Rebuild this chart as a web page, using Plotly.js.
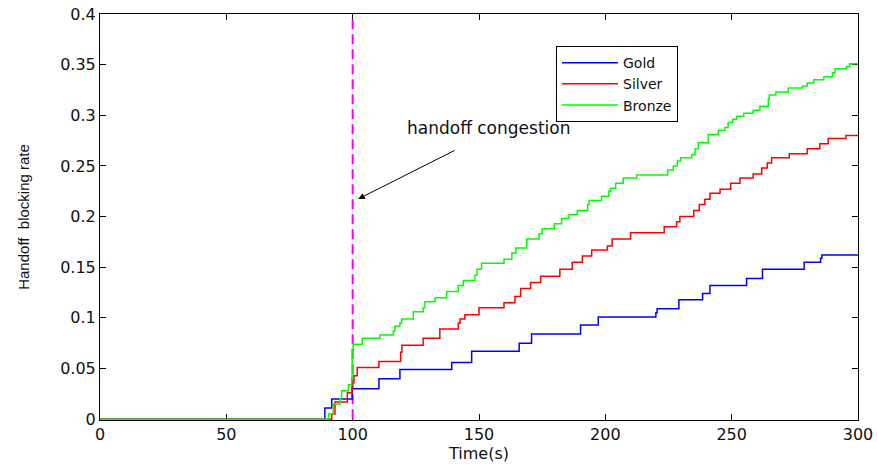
<!DOCTYPE html>
<html>
<head>
<meta charset="utf-8">
<script src="https://cdn.plot.ly/plotly-3.0.1.min.js"></script>
<style>
  html, body { margin: 0; padding: 0; background: #fff; }
  #chart { width: 877px; height: 466px; }
</style>
</head>
<body>
<div id="chart"></div>
<script>
// ---- Data ----
const seriesNames = ["Gold", "Silver", "Bronze"];
const seriesColors = ["#0000ff", "#ff0000", "#00ff00"];

const goldTime = [0, 89.0, 91.7, 99.8, 110.4, 118.7, 139.2, 147.1, 165.9, 170.8, 190.2, 197.2, 220.0, 220.5, 229.1, 238.5, 241.4, 255.9, 262.2, 278.7, 285.2, 285.7, 300];
const goldRate = [0, 0.011, 0.020, 0.030, 0.040, 0.049, 0.056, 0.067, 0.075, 0.084, 0.093, 0.101, 0.105, 0.109, 0.118, 0.124, 0.132, 0.139, 0.148, 0.155, 0.159, 0.162, 0.162];

const silverTime = [0, 91.7, 93.0, 97.9, 99.8, 100.5, 101.8, 110.4, 119.0, 119.5, 127.9, 134.5, 141.8, 142.5, 144.4, 150.0, 159.9, 164.2, 166.5, 170.4, 174.4, 182.0, 186.9, 190.9, 194.6, 200.8, 202.7, 210.0, 223.3, 228.2, 229.5, 235.0, 237.2, 239.4, 241.4, 245.4, 249.6, 253.3, 258.5, 261.9, 264.1, 265.8, 272.8, 279.9, 284.9, 288.2, 295.2, 300];
const silverRate = [0, 0.005, 0.017, 0.026, 0.036, 0.043, 0.051, 0.057, 0.066, 0.073, 0.080, 0.089, 0.095, 0.099, 0.103, 0.110, 0.115, 0.121, 0.129, 0.135, 0.141, 0.148, 0.155, 0.161, 0.167, 0.171, 0.178, 0.184, 0.190, 0.195, 0.200, 0.206, 0.212, 0.217, 0.223, 0.227, 0.233, 0.238, 0.242, 0.248, 0.253, 0.258, 0.262, 0.267, 0.272, 0.277, 0.280, 0.280];

const bronzeTime = [0, 90.5, 92.3, 95.0, 95.6, 98.3, 99.6, 99.8, 100.2, 103.8, 110.8, 116.1, 116.7, 118.7, 119.4, 124.0, 127.9, 128.6, 132.6, 137.2, 141.8, 143.8, 148.4, 149.2, 151.0, 159.9, 163.0, 164.6, 168.9, 173.8, 175.0, 179.8, 182.7, 185.6, 188.9, 193.0, 193.6, 198.5, 201.4, 202.1, 204.1, 207.1, 212.4, 224.7, 226.9, 228.5, 229.8, 234.2, 235.5, 236.8, 240.7, 244.7, 247.3, 248.6, 250.4, 252.0, 254.8, 258.5, 261.2, 264.5, 264.9, 267.5, 272.4, 278.1, 279.9, 282.5, 286.5, 289.9, 290.9, 295.5, 296.8, 300];
const bronzeRate = [0, 0.005, 0.015, 0.020, 0.028, 0.034, 0.041, 0.069, 0.074, 0.080, 0.083, 0.087, 0.092, 0.095, 0.099, 0.106, 0.110, 0.116, 0.120, 0.126, 0.132, 0.137, 0.142, 0.148, 0.154, 0.158, 0.164, 0.169, 0.178, 0.183, 0.188, 0.193, 0.198, 0.202, 0.206, 0.212, 0.216, 0.220, 0.225, 0.228, 0.233, 0.238, 0.241, 0.246, 0.250, 0.255, 0.258, 0.261, 0.267, 0.273, 0.281, 0.285, 0.288, 0.293, 0.296, 0.299, 0.302, 0.305, 0.309, 0.316, 0.320, 0.323, 0.327, 0.329, 0.332, 0.335, 0.338, 0.342, 0.346, 0.348, 0.351, 0.351];

const congestionTime = 100;
const congestionLabel = "handoff congestion";
const labelPos = [153.9, 0.287];
const arrowHead = [102.2, 0.2174];
const arrowTail = [140.9, 0.266];

const xTicks = [0, 50, 100, 150, 200, 250, 300];
const yTicks = [0, 0.05, 0.1, 0.15, 0.2, 0.25, 0.3, 0.35, 0.4];
const xRange = [0, 300];
const yRange = [-0.0008, 0.4];

// ---- Plot ----
const FONT = "DejaVu Sans, Arial, sans-serif";
const times = [goldTime, silverTime, bronzeTime];
const rates = [goldRate, silverRate, bronzeRate];

const traces = [{
  x: [congestionTime, congestionTime],
  y: [0, yRange[1]],
  mode: "lines",
  line: { color: "#ff00ff", width: 2, dash: "10px,5px" },
  showlegend: false,
  hoverinfo: "skip"
}];
seriesNames.forEach((name, i) => {
  traces.push({
    x: times[i],
    y: rates[i],
    name: name,
    mode: "lines",
    line: { color: seriesColors[i], width: 1.5, shape: "hv" }
  });
});

const axisCommon = {
  showgrid: false,
  zeroline: false,
  showline: true,
  linecolor: "#000",
  linewidth: 1,
  mirror: "ticks",
  ticks: "inside",
  ticklen: 6,
  tickcolor: "#000",
  tickfont: { family: FONT, size: 16, color: "#111" },
  layer: "below traces"
};

const layout = {
  width: 877,
  height: 466,
  margin: { l: 100, r: 19, t: 14, b: 46 },
  paper_bgcolor: "#fff",
  plot_bgcolor: "#fff",
  font: { family: FONT, color: "#000" },
  xaxis: Object.assign({}, axisCommon, {
    range: xRange,
    tickvals: xTicks,
    ticktext: xTicks.map(String),
    title: { text: "Time(s)", font: { family: FONT, size: 16, color: "#111" }, standoff: 1 }
  }),
  yaxis: Object.assign({}, axisCommon, {
    range: yRange,
    tickvals: yTicks,
    ticktext: yTicks.map(String),
    title: { text: "Handoff\u00a0\u00a0blocking rate", font: { family: "Liberation Sans, Arial, sans-serif", size: 15, color: "#111" }, standoff: 26 }
  }),
  legend: {
    x: 0.6016, y: 0.921, xanchor: "left", yanchor: "top",
    bgcolor: "#fff",
    bordercolor: "#000",
    borderwidth: 1,
    itemwidth: 56,
    entrywidth: 158,
    entrywidthmode: "pixels",
    font: { family: FONT, size: 14, color: "#111" },
    tracegroupgap: 0
  },
  annotations: [
    {
      x: labelPos[0], y: labelPos[1], xref: "x", yref: "y",
      text: congestionLabel, showarrow: false,
      font: { family: FONT, size: 17, color: "#111" }
    },
    {
      x: arrowHead[0], y: arrowHead[1], xref: "x", yref: "y",
      ax: arrowTail[0], ay: arrowTail[1], axref: "x", ayref: "y",
      text: "", showarrow: true,
      arrowhead: 2, arrowsize: 1.3, arrowwidth: 1, arrowcolor: "#000"
    }
  ],
  showlegend: true
};

Plotly.newPlot("chart", traces, layout, { displayModeBar: false, staticPlot: true });
</script>
</body>
</html>
